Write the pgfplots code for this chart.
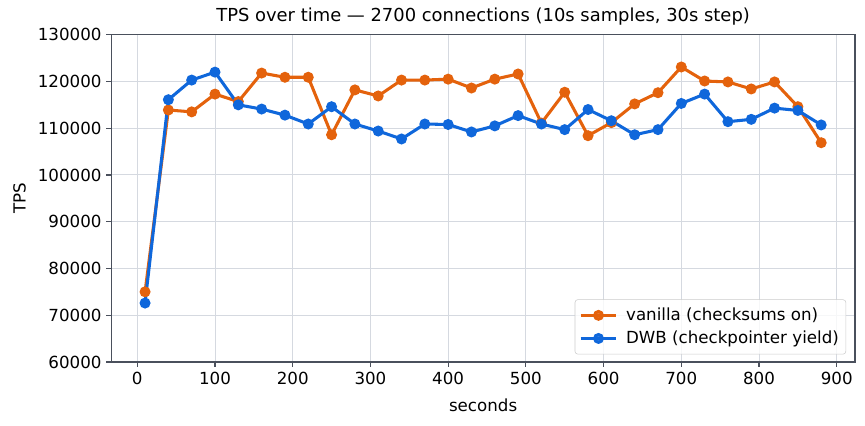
\documentclass[border=0pt]{standalone}
\usepackage{fontspec}
\setmainfont{DejaVu Sans}
\usepackage{pgfplots}
\pgfplotsset{compat=1.18}
\definecolor{cOr}{HTML}{E4620C}
\definecolor{cBl}{HTML}{0F67DB}
\definecolor{spine}{HTML}{4A505C}
\definecolor{gridc}{HTML}{D5D9E0}
\begin{document}
\begin{tikzpicture}
\begin{axis}[name=ax, at={(0,0)}, anchor=south west, scale only axis,
  width=535.5pt, height=235.6pt,
  xmin=-33.5, xmax=923.5, ymin=60000, ymax=130000,
  xtick={0,100,...,900}, ytick={60000,70000,...,130000},
  scaled y ticks=false,
  /pgf/number format/assume math mode=true,
  yticklabel style={/pgf/number format/.cd, fixed, set thousands separator={}},
  ticklabel style={font=\fontsize{12}{14}\selectfont, text=black},
  tick align=outside, major tick length=3.5pt,
  tick style={spine, line width=0.8pt},
  xtick pos=bottom, ytick pos=left,
  axis line style={spine, line width=0.8pt},
  grid=major, grid style={gridc, line width=0.7pt},
  title={TPS over time — 2700 connections (10s samples, 30s step)},
  title style={font=\fontsize{12.9}{15}\selectfont, yshift=-3pt},
  xlabel={seconds}, ylabel={TPS},
  label style={font=\fontsize{12}{14}\selectfont},
  xlabel style={at={(axis description cs:0.5,-0.1316)}, anchor=center},
  ylabel style={at={(axis description cs:-0.1233,0.5)}, anchor=center},
  legend style={at={(0.988,0.023)}, anchor=south east, draw=black!20, rounded corners=2pt,
    fill=white, fill opacity=0.8, text opacity=1, font=\fontsize{12}{14}\selectfont,
    inner xsep=3pt, inner ysep=4pt, row sep=2pt, column sep=4pt},
  legend cell align=left,
  legend image code/.code={\draw[mark repeat=2, mark phase=2, #1] plot coordinates {(0cm,0cm) (0.45cm,0cm) (0.9cm,0cm)};},
]
\addplot[cOr, line width=2.2pt, mark=*, mark size=2.8pt, mark options={solid}] coordinates {
(10,75000) (40,113900) (70,113500) (100,117300) (130,115700) (160,121800) (190,120900) (220,120900) (250,108600) (280,118200)
(310,116900) (340,120300) (370,120300) (400,120500) (430,118600) (460,120500) (490,121600) (520,111100) (550,117700) (580,108400)
(610,111200) (640,115200) (670,117600) (700,123100) (730,120100) (760,119900) (790,118400) (820,119900) (850,114600) (880,106900)};
\addlegendentry{vanilla (checksums on)}
\addplot[cBl, line width=2.2pt, mark=*, mark size=2.8pt, mark options={solid}] coordinates {
(10,72600) (40,116100) (70,120300) (100,122000) (130,115000) (160,114100) (190,112800) (220,110900) (250,114600) (280,110900)
(310,109400) (340,107700) (370,110900) (400,110800) (430,109200) (460,110500) (490,112700) (520,110900) (550,109700) (580,114000)
(610,111600) (640,108600) (670,109700) (700,115300) (730,117300) (760,111400) (790,111900) (820,114300) (850,113800) (880,110700)};
\addlegendentry{DWB (checkpointer yield)}
\end{axis}
\pgfresetboundingbox
\path[use as bounding box] (-80.1pt,-45.4pt) rectangle (542.7pt,260.6pt);
\end{tikzpicture}
\end{document}
